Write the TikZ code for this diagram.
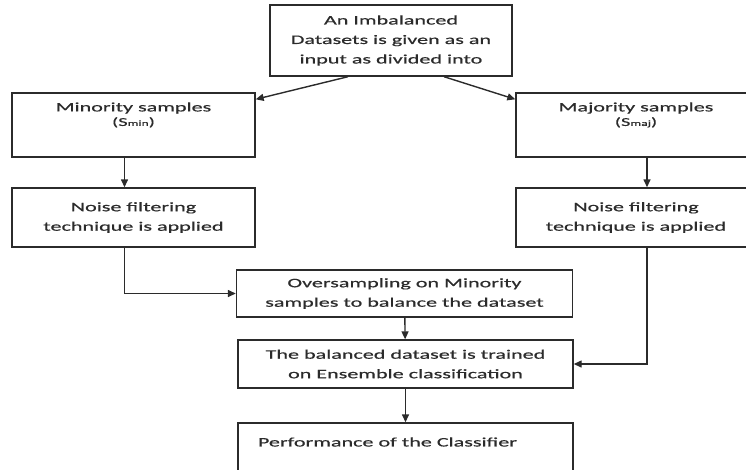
\documentclass[tikz,border=0pt]{standalone}
\usepackage{fontspec}
\setmainfont{Carlito}[FakeStretch=1.7,FakeBold=0.6]
\usepackage{tikz}
\usetikzlibrary{calc,arrows.meta}
\definecolor{inkgray}{HTML}{2B2B2B}
\tikzset{
  flowbox/.style={draw=inkgray,line width=1.4pt,inner sep=0pt,align=center,text=inkgray,
    font=\fontsize{13}{19.5}\selectfont},
  flowtext/.style={inner sep=0pt,align=center,text=inkgray,font=\fontsize{13}{19.5}\selectfont},
  flowline/.style={draw=inkgray,line width=1.4pt}
}
\newcommand{\subsam}[1]{{\fontsize{12}{14}\selectfont(S{\fontsize{8}{10}\selectfont #1})}}

\begin{document}
\begin{tikzpicture}[>={Stealth[length=8pt,width=7pt,inset=0pt]},x=1pt,y=-1pt]
  \clip(0,0)rectangle(746,469);
  \node[flowbox,minimum width=242pt,minimum height=71pt](input)at(391,40.5)
    {An Imbalanced\\Datasets is given as an\\input as divided into};
  \node[flowbox,minimum width=243pt,minimum height=64pt](smin)at(133.5,125){};
  \node[flowtext](smintxt)at(133.5,115){Minority samples\\[-5pt]\subsam{min}};
  \node[flowbox,minimum width=240pt,minimum height=64pt](smaj)at(636,125){};
  \node[flowtext](smajtxt)at(636,115){Majority samples\\[-5pt]\subsam{maj}};
  \node[flowbox,minimum width=243pt,minimum height=59pt](noisemin)at(133.5,217.5)
    {Noise filtering\\technique is applied};
  \node[flowbox,minimum width=240pt,minimum height=59pt](noisemaj)at(636,217.5)
    {Noise filtering\\technique is applied};
  \node[flowbox,minimum width=336pt,minimum height=47pt](oversamp)at(404.5,293.5)
    {Oversampling on Minority\\samples to balance the dataset};
  \node[flowbox,minimum width=335pt,minimum height=48pt](ensemble)at(405.5,364)
    {The balanced dataset is trained\\on Ensemble classification};
  \node[flowbox,minimum width=335pt,minimum height=57pt](perf)at(405.5,451.5){};
  \node[flowtext](perftxt)at(387.5,442){Performance of the Classifier};
  % connectors
  \draw[flowline,->]([xshift=-43pt]input.south)--([yshift=-7pt]smin.north east);
  \draw[flowline,->]([xshift=53pt]input.south)--([yshift=-7pt]smaj.north west);
  \draw[flowline,->]([xshift=-9pt]smin.south)--([xshift=-9pt]noisemin.north);
  \draw[flowline,->]([xshift=11pt]smaj.south)--([xshift=11pt]noisemaj.north);
  \draw[flowline,->]([xshift=-9pt]noisemin.south)|-(oversamp.west);
  \draw[flowline,->]([xshift=11pt]noisemaj.south)|-(ensemble.east);
  \draw[flowline,->](oversamp)--(ensemble);
  \draw[flowline,->](ensemble)--(perf);
\end{tikzpicture}
\end{document}
